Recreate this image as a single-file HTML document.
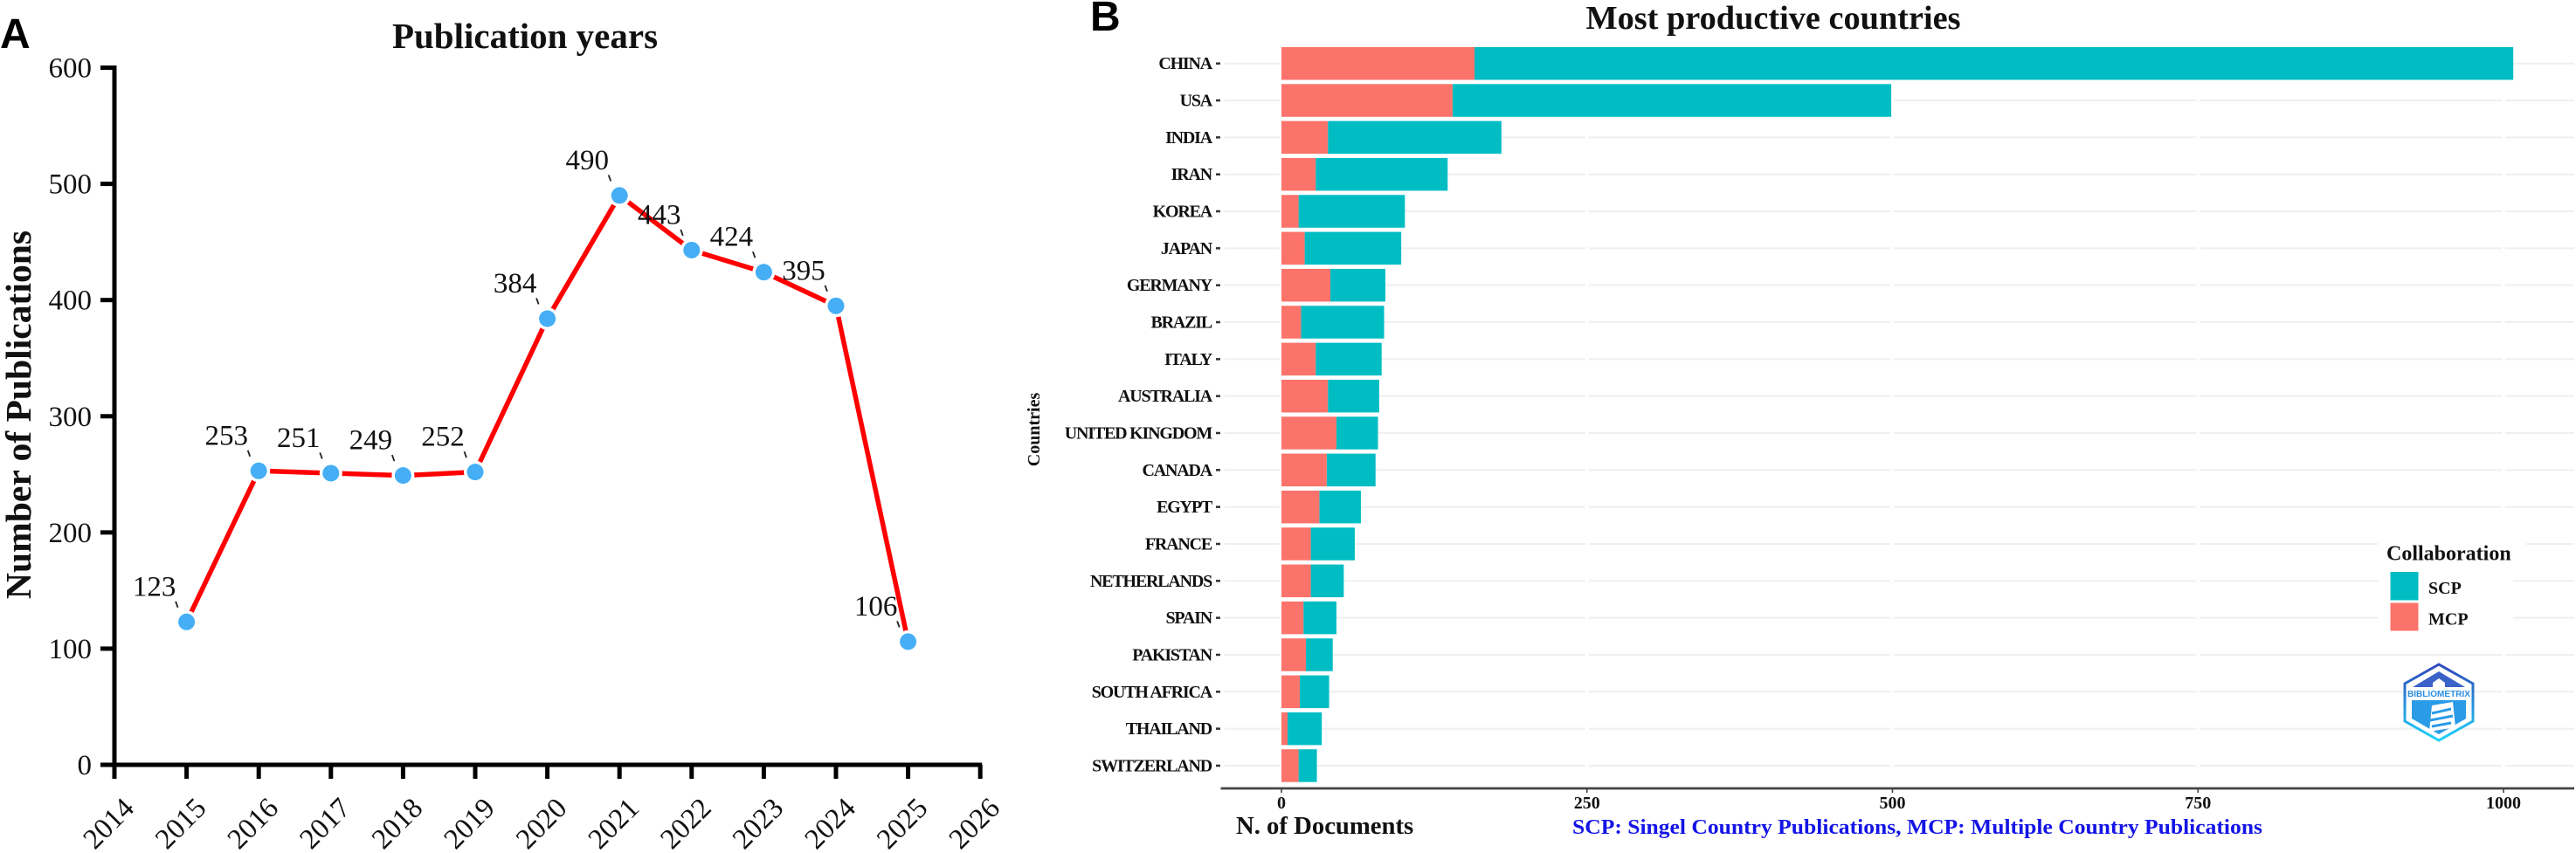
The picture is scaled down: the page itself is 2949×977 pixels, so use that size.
<!DOCTYPE html>
<html lang="en">
<head>
<meta charset="utf-8">
<title>Publication years and most productive countries</title>
<style>
  html, body { margin: 0; padding: 0; background: #ffffff; }
  svg { display: block; }
  text { font-family: "Liberation Serif", serif; fill: #111; }
  .sans { font-family: "Liberation Sans", sans-serif; font-weight: bold; fill: #000; }
</style>
</head>
<body>
<svg id="figure" xmlns="http://www.w3.org/2000/svg" width="2949" height="977" viewBox="0 0 2949 977">
  <defs>
    <linearGradient id="logoGrad" x1="0" y1="0" x2="0" y2="1">
      <stop offset="0" stop-color="#3048BC"/>
      <stop offset="1" stop-color="#1FD2F7"/>
    </linearGradient>
  </defs>
  <rect x="0" y="0" width="2949" height="977" fill="#ffffff"/>

  <text class="sans" x="0" y="55" font-size="48">A</text>
  <text class="sans" x="1248" y="35" font-size="48">B</text>

  <g id="panelA">
    <text x="601" y="55" text-anchor="middle" font-size="41" font-weight="bold">Publication years</text>
    <text transform="translate(35,475) rotate(-90)" text-anchor="middle" font-size="41.6" font-weight="bold">Number of Publications</text>
  </g>

  <g id="panelB">
    <text x="2030" y="33" text-anchor="middle" font-size="38.3" font-weight="bold">Most productive countries</text>
    <text transform="translate(1190,492) rotate(-90)" text-anchor="middle" font-size="20" font-weight="bold">Countries</text>
    <text x="1415" y="955" font-size="28.7" font-weight="bold">N. of Documents</text>
    <text x="1800" y="955" font-size="24" font-weight="bold" style="fill:#1414E6" textLength="790" lengthAdjust="spacingAndGlyphs">SCP: Singel Country Publications, MCP: Multiple Country Publications</text>
  </g>

  <g id="legend">
    <rect x="2722" y="612" width="170" height="40" fill="#ffffff"/>
    <rect x="2723" y="652" width="154" height="76" fill="#ffffff"/>
    <text x="2732" y="641.5" font-size="24" font-weight="bold">Collaboration</text>
    <rect x="2736.5" y="655" width="32" height="32.5" fill="#00BDC4"/>
    <text x="2780" y="680" font-size="20" font-weight="bold">SCP</text>
    <rect x="2736.5" y="690.5" width="32" height="32" fill="#FB736B"/>
    <text x="2780" y="715.5" font-size="20" font-weight="bold">MCP</text>
  </g>

  <g id="logo">
    <polygon points="2792,761 2831,783 2831,826 2792,848 2753,826 2753,783" fill="#ffffff" stroke="url(#logoGrad)" stroke-width="3"/>
    <polygon points="2792,769 2822,787 2762,787" fill="#3A62C8"/>
    <rect x="2757" y="787" width="70" height="12" fill="#ffffff"/>
    <polygon points="2761,802 2823,802 2823,823 2792,841 2761,823" fill="#2A9BE6"/>
    <polygon points="2785,782 2792,777 2799,782 2799,799 2785,799" fill="#ffffff"/>
    <polygon points="2784,808 2808,804 2811,833 2781,838" fill="#ffffff"/>
    <path d="M2784,817 L2806,812 M2782,825 L2808,820 M2784,832 L2806,828" stroke="#2A9BE6" stroke-width="3" fill="none"/>
    <text x="2792" y="798" text-anchor="middle" font-size="10" font-weight="bold" style="fill:#2C8FE0;font-family:'Liberation Sans',sans-serif" textLength="72" lengthAdjust="spacingAndGlyphs">BIBLIOMETRIX</text>
  </g>
</svg>

<script>
/* Panel A data */
const years = [2015, 2016, 2017, 2018, 2019, 2020, 2021, 2022, 2023, 2024, 2025];
const publications = [123, 253, 251, 249, 252, 384, 490, 443, 424, 395, 106];
const yearTicks = [2014, 2015, 2016, 2017, 2018, 2019, 2020, 2021, 2022, 2023, 2024, 2025, 2026];
const countTicks = [0, 100, 200, 300, 400, 500, 600];

/* Panel B data */
const countries = ["CHINA", "USA", "INDIA", "IRAN", "KOREA", "JAPAN", "GERMANY", "BRAZIL", "ITALY", "AUSTRALIA", "UNITED KINGDOM", "CANADA", "EGYPT", "FRANCE", "NETHERLANDS", "SPAIN", "PAKISTAN", "SOUTH AFRICA", "THAILAND", "SWITZERLAND"];
const mcpValues = [158, 140, 38, 28, 14, 19, 40, 16, 28, 38, 45, 37, 31, 24, 24, 18, 20, 15, 5, 14];
const scpValues = [850, 359, 142, 108, 87, 79, 45, 68, 54, 42, 34, 40, 34, 36, 27, 27, 22, 24, 28, 15];
const documentTicks = [0, 250, 500, 750, 1000];

const NS = "http://www.w3.org/2000/svg";
function make(parent, tag, attrs, content) {
  const el = document.createElementNS(NS, tag);
  for (const key in attrs) el.setAttribute(key, attrs[key]);
  if (content !== undefined) el.textContent = content;
  parent.appendChild(el);
  return el;
}

/* Panel A scales */
const xYear = function (year) { return 131 + (year - 2014) * 82.6; };
const yCount = function (count) { return 876 - count * 1.3308; };

const panelA = document.getElementById("panelA");

const linePoints = years.map(function (year, i) { return xYear(year) + "," + yCount(publications[i]); }).join(" ");
const trend = make(panelA, "polyline", { points: linePoints, fill: "none", stroke: "#FF0000", "stroke-width": 5.5, "stroke-linejoin": "round" });



const yAxisLine = make(panelA, "line", { x1: 131, x2: 131, y1: yCount(600) - 2.5, y2: 892, stroke: "#000", "stroke-width": 5 });



const xAxisLine = make(panelA, "line", { x1: 115, x2: xYear(2026) + 2, y1: yCount(0), y2: yCount(0), stroke: "#000", "stroke-width": 5 });



countTicks.forEach(function (tick) {
  const mark = make(panelA, "line", { x1: 115, x2: 131, y1: yCount(tick), y2: yCount(tick), stroke: "#000", "stroke-width": 5 });
  
  
  const label = make(panelA, "text", { x: 105, y: yCount(tick) + 11, "text-anchor": "end", "font-size": 33 }, String(tick));
  
  
});

yearTicks.forEach(function (tick) {
  const mark = make(panelA, "line", { x1: xYear(tick), x2: xYear(tick), y1: yCount(0), y2: 892, stroke: "#000", "stroke-width": 5 });
  
  
  const label = make(panelA, "text", { transform: "translate(" + (xYear(tick) - 7) + ",943) rotate(-45)", y: 11, "text-anchor": "middle", "font-size": 33 }, String(tick));
  
  
});

years.forEach(function (year, i) {
  const px = xYear(year);
  const py = yCount(publications[i]);
  const halo = make(panelA, "circle", { cx: px, cy: py, r: 13, fill: "#ffffff" });
  
  
  const dot = make(panelA, "circle", { cx: px, cy: py, r: 9.5, fill: "#45AEF5" });
  
  
  const leader = make(panelA, "line", { x1: px - 12.5, y1: py - 23.5, x2: px - 10, y2: py - 16.5, stroke: "#222", "stroke-width": 1.8 });
  
  
  const value = make(panelA, "text", { x: px - 37, y: py - 30, "text-anchor": "middle", "font-size": 33 }, String(publications[i]));
  
  
});

/* Panel B scales */
const xDocs = function (docs) { return 1467 + docs * 1.399; };
const yRow = function (index) { return 72.7 + index * 42.33; };
const barHeight = 37.5;

const panelB = document.getElementById("panelB");

countries.forEach(function (country, i) {
  const grid = make(panelB, "line", { x1: 1402, x2: 2947, y1: yRow(i), y2: yRow(i), stroke: "#EFEFEF", "stroke-width": 2 });
  
  
});

documentTicks.forEach(function (tick) {
  const gap = make(panelB, "line", { x1: xDocs(tick), x2: xDocs(tick), y1: 50, y2: 900, stroke: "#ffffff", "stroke-width": 4 });
  
  
});

countries.forEach(function (country, i) {
  const top = yRow(i) - barHeight / 2;
  const scpBar = make(panelB, "rect", { x: xDocs(mcpValues[i]), y: top, width: scpValues[i] * 1.399, height: barHeight, fill: "#00BDC4" });
  
  
  const mcpBar = make(panelB, "rect", { x: xDocs(0), y: top, width: mcpValues[i] * 1.399, height: barHeight, fill: "#FB736B" });
  
  
  const label = make(panelB, "text", { x: 1387, y: yRow(i) + 6.5, "text-anchor": "end", "font-size": 20, "font-weight": "bold", "letter-spacing": -1.2 }, country);
  
  
  const dash = make(panelB, "line", { x1: 1392, x2: 1397, y1: yRow(i), y2: yRow(i), stroke: "#333", "stroke-width": 2.5 });
  
  
});

const docAxis = make(panelB, "line", { x1: 1397.5, x2: 2947, y1: 903, y2: 903, stroke: "#444", "stroke-width": 2.8 });



documentTicks.forEach(function (tick) {
  const mark = make(panelB, "line", { x1: xDocs(tick), x2: xDocs(tick), y1: 903, y2: 908, stroke: "#444", "stroke-width": 1.6 });
  
  
  const label = make(panelB, "text", { x: xDocs(tick), y: 926, "text-anchor": "middle", "font-size": 20, "font-weight": "bold" }, String(tick));
  
  
});

/* keep legend and logo above gridlines */
const figure = document.getElementById("figure");
figure.appendChild(document.getElementById("legend"));
figure.appendChild(document.getElementById("logo"));
</script>
</body>
</html>
